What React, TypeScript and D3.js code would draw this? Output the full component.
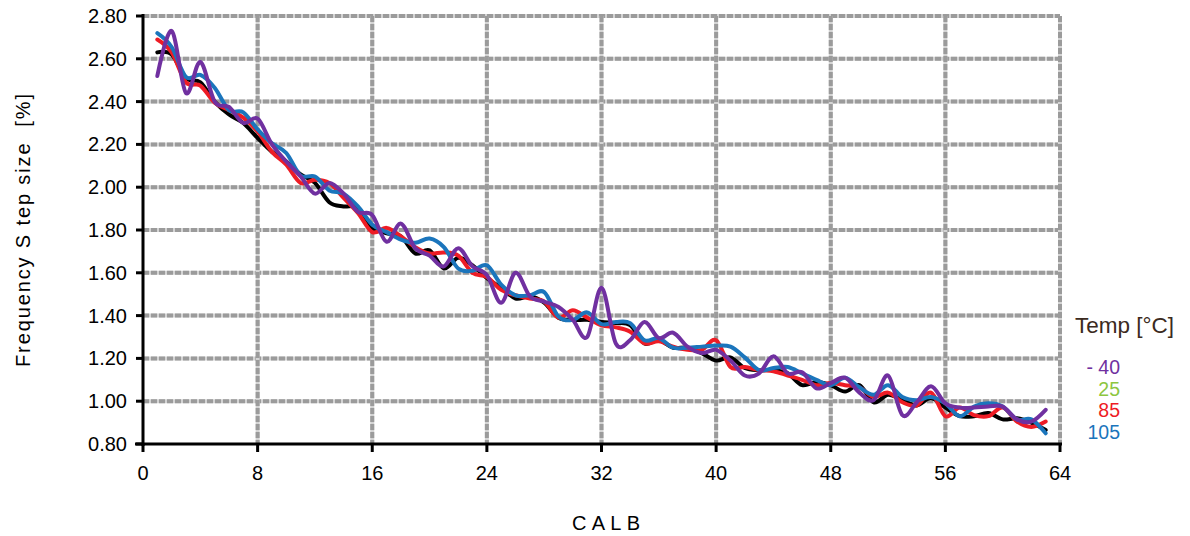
import React from "react";
import * as d3 from "d3";

const calb: number[] = d3.range(1, 64);

const tempM40: number[] = [
  2.52, 2.73, 2.44, 2.585, 2.40, 2.375, 2.30, 2.32, 2.20, 2.12,
  2.05, 1.97, 2.02, 1.97, 1.885, 1.87, 1.745, 1.83, 1.715, 1.68,
  1.63, 1.715, 1.63, 1.59, 1.46, 1.60, 1.49, 1.465, 1.44, 1.38,
  1.30, 1.53, 1.27, 1.285, 1.37, 1.295, 1.32, 1.255, 1.225, 1.24,
  1.19, 1.12, 1.13, 1.21, 1.13, 1.135, 1.06, 1.085, 1.11, 1.04,
  1.005, 1.12, 0.935, 0.995, 1.07, 0.99, 0.97, 0.97, 0.975, 0.975,
  0.915, 0.905, 0.96,
];

const temp25: number[] = [
  2.63, 2.62, 2.51, 2.49, 2.40, 2.34, 2.30, 2.23, 2.165, 2.12,
  2.06, 2.02, 1.93, 1.91, 1.905, 1.81, 1.785, 1.77, 1.69, 1.705,
  1.62, 1.67, 1.635, 1.575, 1.53, 1.48, 1.49, 1.46, 1.39, 1.38,
  1.38, 1.37, 1.365, 1.355, 1.27, 1.285, 1.25, 1.25, 1.225, 1.19,
  1.205, 1.155, 1.145, 1.145, 1.13, 1.075, 1.09, 1.075, 1.045, 1.075,
  0.995, 1.03, 1.005, 0.98, 1.015, 0.97, 0.93, 0.93, 0.945, 0.915,
  0.92, 0.90, 0.865,
];

const temp85: number[] = [
  2.69, 2.63, 2.49, 2.475, 2.395, 2.36, 2.325, 2.26, 2.165, 2.105,
  2.02, 2.035, 2.02, 1.95, 1.88, 1.79, 1.81, 1.77, 1.72, 1.69,
  1.695, 1.68, 1.60, 1.58, 1.52, 1.495, 1.48, 1.465, 1.39, 1.425,
  1.39, 1.355, 1.345, 1.325, 1.27, 1.28, 1.255, 1.24, 1.24, 1.285,
  1.16, 1.16, 1.145, 1.14, 1.12, 1.10, 1.075, 1.085, 1.075, 1.065,
  1.02, 1.04, 0.995, 0.98, 1.04, 0.93, 0.97, 0.935, 0.93, 0.97,
  0.905, 0.88, 0.905,
];

const temp105: number[] = [
  2.72, 2.655, 2.515, 2.525, 2.465, 2.36, 2.35, 2.27, 2.205, 2.16,
  2.055, 2.05, 1.985, 1.97, 1.91, 1.825, 1.79, 1.755, 1.74, 1.76,
  1.72, 1.62, 1.61, 1.635, 1.545, 1.495, 1.495, 1.51, 1.395, 1.38,
  1.415, 1.36, 1.37, 1.365, 1.285, 1.295, 1.25, 1.25, 1.255, 1.26,
  1.255, 1.205, 1.145, 1.155, 1.16, 1.13, 1.10, 1.075, 1.11, 1.065,
  1.03, 1.075, 1.02, 1.005, 1.02, 0.99, 0.93, 0.975, 0.99, 0.975,
  0.915, 0.915, 0.85,
];

const xTicks: number[] = [0, 8, 16, 24, 32, 40, 48, 56, 64];
const yTicks: number[] = [0.8, 1.0, 1.2, 1.4, 1.6, 1.8, 2.0, 2.2, 2.4, 2.6, 2.8];

const legendTitle = "Temp [°C]";
const legendLabels: string[] = ["- 40", "25", "85", "105"];
const legendColors: string[] = ["#7030a0", "#8dc63f", "#ee1c25", "#1b75bc"];

const FONT = "'Liberation Sans', Arial, sans-serif";

export default function App() {
  const W = 1190;
  const H = 536;
  const left = 143;
  const right = 1060;
  const top = 16;
  const bottom = 444;

  const x = d3.scaleLinear().domain([0, 64]).range([left, right]);
  const y = d3.scaleLinear().domain([0.8, 2.8]).range([bottom, top]);

  const line = d3
    .line<number>()
    .x((_, i) => x(calb[i]))
    .y((d) => y(d))
    .curve(d3.curveCardinal.tension(0));

  const series = [
    { data: temp25, color: "#000000" },
    { data: temp85, color: "#ee1c25" },
    { data: temp105, color: "#1b75bc" },
    { data: tempM40, color: "#7030a0" },
  ];

  const gridH = yTicks.filter((t) => t > 0.81);
  const gridV = xTicks.filter((t) => t > 0);

  return (
    <svg width={W} height={H} style={{ position: "absolute", left: 0, top: 0 }}>
      <rect width={W} height={H} fill="#ffffff" />
      {/* grid */}
      <g>
        {gridH.map((t) => (
          <g key={"h" + t}>
            <line x1={left} x2={right} y1={y(t)} y2={y(t)} stroke="#d4d4d4" strokeWidth={4} />
            <line x1={left} x2={right} y1={y(t)} y2={y(t)} stroke="#9b9b9b" strokeWidth={4} strokeDasharray="6 2" />
          </g>
        ))}
        {gridV.map((t) => (
          <g key={"v" + t}>
            <line x1={x(t)} x2={x(t)} y1={top} y2={bottom} stroke="#d4d4d4" strokeWidth={4} />
            <line x1={x(t)} x2={x(t)} y1={top} y2={bottom} stroke="#9b9b9b" strokeWidth={4} strokeDasharray="6 2" />
          </g>
        ))}
      </g>
      {/* series */}
      <g fill="none" strokeLinejoin="round" strokeLinecap="round">
        {series.map((s, i) => (
          <path key={i} d={line(s.data) || ""} stroke={s.color} strokeWidth={4} />
        ))}
      </g>
      {/* axes */}
      <line x1={left} x2={left} y1={top - 2} y2={bottom + 2} stroke="#000" strokeWidth={3} />
      <line x1={left - 8} x2={right + 2} y1={bottom} y2={bottom} stroke="#000" strokeWidth={3} />
      {yTicks.map((t) => (
        <line key={"yt" + t} x1={left - 7} x2={left} y1={y(t)} y2={y(t)} stroke="#000" strokeWidth={3} />
      ))}
      {xTicks.map((t) => (
        <line key={"xt" + t} x1={x(t)} x2={x(t)} y1={bottom} y2={bottom + 8} stroke="#000" strokeWidth={3} />
      ))}
      {/* tick labels */}
      <g fontFamily={FONT} fontSize={20} fill="#000">
        {yTicks.map((t) => (
          <text key={"yl" + t} x={127} y={y(t)} textAnchor="end" dominantBaseline="central">
            {t.toFixed(2)}
          </text>
        ))}
        {xTicks.map((t) => (
          <text key={"xl" + t} x={x(t)} y={473} textAnchor="middle" dominantBaseline="central">
            {String(t)}
          </text>
        ))}
      </g>
      {/* axis titles */}
      <text
        x={572}
        y={523}
        dominantBaseline="central"
        fontFamily={FONT}
        fontSize={20}
        textLength={68}
        lengthAdjust="spacing"
      >
        CALB
      </text>
      <text
        transform={`translate(23,${231}) rotate(-90)`}
        x={-136}
        dominantBaseline="central"
        fontFamily={FONT}
        fontSize={20}
        textLength={273}
        lengthAdjust="spacing"
        style={{ whiteSpace: "pre" }}
      >
        {"Frequency S tep size  [%]"}
      </text>
      {/* legend */}
      <text x={1075} y={325} fontFamily={FONT} fontSize={22.5} fill="#3b2a20" dominantBaseline="central">
        {legendTitle}
      </text>
      {legendLabels.map((l, i) => (
        <text
          key={l}
          x={1120}
          y={367 + i * 21.7}
          textAnchor="end"
          fontFamily={FONT}
          fontSize={19.5}
          fill={legendColors[i]}
          dominantBaseline="central"
        >
          {l}
        </text>
      ))}
    </svg>
  );
}
